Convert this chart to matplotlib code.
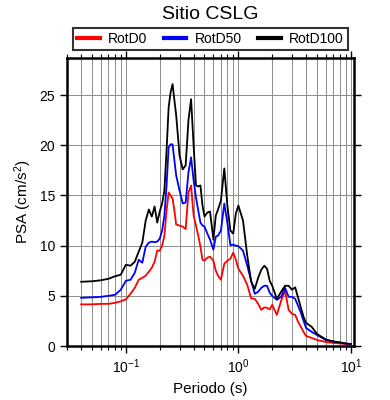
import numpy as np
import matplotlib
matplotlib.use('Agg')
import matplotlib.pyplot as plt
from matplotlib.ticker import LogLocator, MultipleLocator

plt.rcParams['font.family'] = ['Liberation Sans', 'DejaVu Sans']
plt.rcParams['mathtext.fontset'] = 'custom'
plt.rcParams['mathtext.rm'] = 'Liberation Sans'
plt.rcParams['mathtext.it'] = 'Liberation Sans:italic'

periods = [0.04, 0.05, 0.06, 0.07, 0.08, 0.09, 0.10, 0.11, 0.12, 0.13, 0.14, 0.15,
           0.16, 0.17, 0.18, 0.19, 0.20, 0.21, 0.22, 0.23, 0.24, 0.25, 0.26, 0.27,
           0.28, 0.30, 0.32, 0.34, 0.36, 0.38, 0.40, 0.42, 0.44, 0.46, 0.48, 0.50,
           0.53, 0.56, 0.60, 0.63, 0.66, 0.70, 0.75, 0.80, 0.85, 0.90, 0.95, 1.0,
           1.1, 1.2, 1.3, 1.4, 1.5, 1.6, 1.7, 1.8, 1.9, 2.0, 2.2, 2.4, 2.6, 2.8,
           3.0, 3.2, 3.4, 3.6, 3.8, 4.0, 4.5, 5.0, 6.0, 7.0, 8.0, 9.0, 10.0]

rotd0 = [4.15, 4.15, 4.2, 4.2, 4.3, 4.45, 4.65, 5.2, 5.8, 6.6, 6.8, 7.0,
         7.4, 7.8, 8.4, 9.5, 9.5, 10.0, 11.0, 13.5, 15.3, 15.0, 14.7, 13.5,
         12.1, 12.0, 11.9, 11.65, 15.3, 16.0, 13.0, 12.0, 11.0, 9.9, 8.6, 8.5,
         8.8, 8.9, 8.5, 7.5, 7.0, 6.6, 8.2, 8.5, 8.7, 9.3, 8.6, 7.7,
         7.0, 6.1, 4.75, 4.7, 4.2, 3.6, 3.85, 3.8, 3.65, 4.1, 3.1, 4.5, 5.5, 3.6,
         3.2, 3.1, 2.4, 1.9, 1.4, 1.0, 0.8, 0.6, 0.4, 0.3, 0.25, 0.2, 0.15]

rotd50 = [4.8, 4.85, 4.9, 5.0, 5.1, 5.6, 6.5, 6.6, 7.3, 8.6, 8.3, 9.9,
          10.3, 10.4, 10.35, 10.4, 10.7, 11.5, 13.0, 16.0, 19.8, 20.1, 20.1, 18.5,
          17.0, 15.5, 14.2, 14.3, 17.3, 18.8, 16.5, 14.8, 13.5, 12.3, 12.0, 11.9,
          11.2, 10.6, 9.6, 10.9, 11.0, 11.5, 14.2, 12.2, 10.05, 10.1, 10.0, 9.95,
          9.5, 8.0, 6.5, 5.2, 5.4, 5.8, 6.0, 6.0, 5.3, 5.0, 4.6, 4.9, 5.8, 4.9,
          4.9, 4.7, 4.0, 3.3, 2.5, 1.8, 1.4, 1.1, 0.6, 0.45, 0.35, 0.25, 0.2]

rotd100 = [6.4, 6.45, 6.55, 6.7, 6.95, 7.1, 8.1, 8.0, 8.4, 9.4, 10.3, 12.5,
           13.6, 12.9, 13.9, 12.3, 13.4, 14.2, 15.5, 19.5, 23.8, 25.3, 26.1, 24.5,
           23.0, 19.0, 17.6, 18.0, 22.5, 24.6, 20.0, 16.0, 15.9, 16.0, 14.0, 12.9,
           13.3, 13.4, 10.6, 13.0, 13.6, 14.5, 17.7, 13.9, 11.5, 11.2, 13.2, 14.0,
           12.5, 9.0, 6.4, 5.7, 6.8, 7.6, 8.0, 7.7, 6.5, 6.0, 4.7, 5.4, 6.0, 6.0,
           5.6, 5.85, 4.8, 3.8, 2.9, 2.3, 1.9, 1.2, 0.65, 0.45, 0.35, 0.25, 0.2]

fig = plt.figure(figsize=(3.9, 4.0), dpi=100)
ax = fig.add_axes([0.172, 0.135, 0.736, 0.72])

ax.plot(periods, rotd0, color='red', lw=1.3, label='RotD0')
ax.plot(periods, rotd50, color='blue', lw=1.3, label='RotD50')
ax.plot(periods, rotd100, color='black', lw=1.3, label='RotD100')

ax.set_xscale('log')
ax.set_xlim(0.03, 10.7)
ax.set_ylim(0, 28.7)
ax.xaxis.set_major_locator(LogLocator(base=10))
ax.xaxis.set_minor_locator(LogLocator(base=10, subs=np.arange(2, 10)))
ax.yaxis.set_major_locator(MultipleLocator(5))
ax.grid(True, which='both', axis='x', color='#8c8c8c', lw=0.7)
ax.grid(True, which='major', axis='y', color='#8c8c8c', lw=0.7)
ax.set_axisbelow(True)

for s in ax.spines.values():
    s.set_linewidth(1.8)
ax.tick_params(which='major', direction='out', length=5, width=1, labelsize=10,
               top=True, right=True)
ax.tick_params(which='minor', direction='out', length=3, width=0.8,
               top=True, right=True)

ax.set_xlabel('Periodo (s)', fontsize=11)
ax.set_ylabel('PSA (cm/s$^2$)', fontsize=11)
fig.text(0.54, 0.963, 'Sitio CSLG', ha='center', va='center', fontsize=14)

leg = fig.legend(loc='center', bbox_to_anchor=(0.540, 0.902), ncol=3, fontsize=10,
                 frameon=True, fancybox=False, handlelength=1.6, handletextpad=0.6,
                 columnspacing=1.2, borderpad=0.3, borderaxespad=0)
leg.get_frame().set_edgecolor('black')
leg.get_frame().set_linewidth(1.5)
for h in leg.legend_handles:
    h.set_linewidth(3)

fig.savefig('out.png', dpi=100)
